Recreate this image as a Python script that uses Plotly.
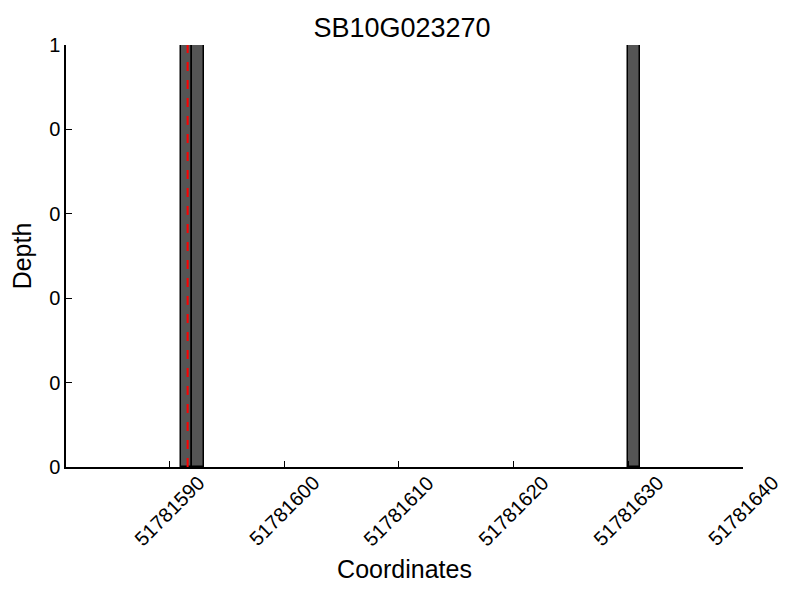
import plotly.graph_objects as go

gene = "SB10G023270"
starts = [51781591, 51781592, 51781630]
depth = [1, 1, 1]
variant_pos = 51781591.6

x_ticks = [51781590, 51781600, 51781610, 51781620, 51781630, 51781640]
y_ticks = [0, 0.2, 0.4, 0.6, 0.8, 1]
y_ticklabels = ["0", "0", "0", "0", "0", "1"]

FONT = "Liberation Sans, Arial, sans-serif"

fig = go.Figure()
fig.add_trace(go.Bar(
    x=starts,
    y=depth,
    width=1,
    offset=0,
    marker_color="#555555",
    marker_line_color="black",
    marker_line_width=1.5,
    showlegend=False,
))
fig.add_vline(x=variant_pos, line_color="red", line_dash="dash", line_width=2)

axis_common = dict(
    showline=True,
    linewidth=1.5,
    linecolor="black",
    ticks="inside",
    ticklen=6,
    tickcolor="black",
    showgrid=False,
    zeroline=False,
    tickfont=dict(size=20, color="black", family=FONT),
)
# x tick labels are drawn as rotated annotations centred under each tick
fig.update_xaxes(
    range=[51781581, 51781640],
    tickvals=x_ticks,
    showticklabels=False,
    title=dict(text="Coordinates", font=dict(size=25, color="black", family=FONT), standoff=93),
    **axis_common
)
for t in x_ticks:
    fig.add_annotation(
        x=t, y=0, xref="x", yref="paper",
        text=str(t), textangle=-45, showarrow=False,
        xanchor="center", yanchor="middle", yshift=-44,
        font=dict(size=20, color="black", family=FONT),
    )
fig.update_yaxes(
    range=[0, 1],
    tickvals=y_ticks,
    ticktext=y_ticklabels,
    title=dict(text="Depth", font=dict(size=25, color="black", family=FONT), standoff=10),
    **axis_common
)
# page body adds an 8px offset, so margins are shifted to compensate
fig.update_layout(
    width=800,
    height=600,
    plot_bgcolor="white",
    paper_bgcolor="white",
    bargap=0,
    title=dict(text=gene, x=0.4925, xanchor="center", y=0.967, yanchor="middle",
               font=dict(size=27, color="black", family=FONT)),
    margin=dict(l=58, r=65, t=37, b=141),
)
fig.write_html("out.html")
